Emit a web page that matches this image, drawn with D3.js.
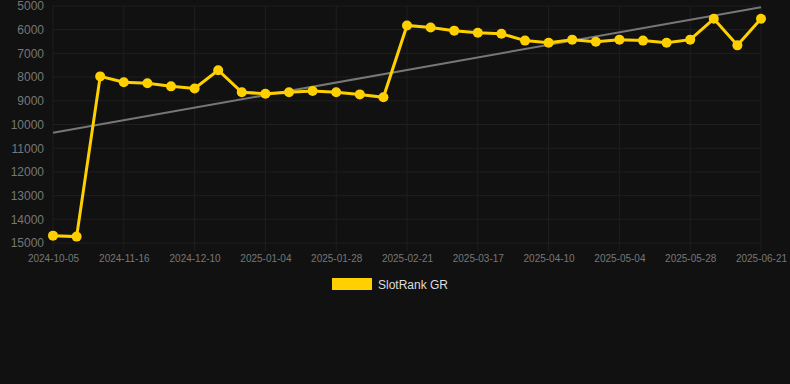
<!DOCTYPE html>
<html>
<head>
<meta charset="utf-8">
<script src="https://cdn.jsdelivr.net/npm/d3@7"></script>
<style>
  body { margin: 0; background: #111111; }
  svg { display: block; font-family: Arial, "Liberation Sans", sans-serif; }
</style>
</head>
<body>
<svg id="chart" width="790" height="384"></svg>
<script>
var dates = ['2024-10-05','2024-10-13','2024-11-08','2024-11-16','2024-11-24','2024-12-02',
  '2024-12-10','2024-12-18','2024-12-27','2025-01-04','2025-01-12','2025-01-20',
  '2025-01-28','2025-02-05','2025-02-13','2025-02-21','2025-03-01','2025-03-09',
  '2025-03-17','2025-03-25','2025-04-02','2025-04-10','2025-04-18','2025-04-26',
  '2025-05-04','2025-05-12','2025-05-20','2025-05-28','2025-06-05','2025-06-13','2025-06-21'];
var ranks = [14690, 14730, 7970, 8220, 8260, 8390, 8480, 7710, 8640, 8700, 8640, 8590,
  8640, 8730, 8850, 5820, 5910, 6040, 6130, 6170, 6460, 6550, 6420, 6510,
  6420, 6460, 6550, 6420, 5540, 6660, 5540];
var trend = [10350, 5050]; // trend line at first and last date
var yTicks = [5000, 6000, 7000, 8000, 9000, 10000, 11000, 12000, 13000, 14000, 15000];
var seriesName = 'SlotRank GR';

var svg = d3.select('#chart');
var x = d3.scalePoint().domain(dates).range([53, 761]);
var y = d3.scaleLinear().domain([5000, 15000]).range([6, 243]);
var xTicks = dates.filter(function(d, i) { return i % 3 === 0; });

// grid
svg.append('g')
  .selectAll('line.h')
  .data(yTicks)
  .enter()
  .append('line')
  .attr('x1', 53).attr('x2', 761)
  .attr('y1', d => y(d)).attr('y2', d => y(d))
  .attr('stroke', '#1f1f1f').attr('stroke-width', 1);

svg.append('g')
  .selectAll('line.v')
  .data(xTicks)
  .enter()
  .append('line')
  .attr('x1', d => x(d)).attr('x2', d => x(d))
  .attr('y1', 6).attr('y2', 251)
  .attr('stroke', '#1f1f1f').attr('stroke-width', 1);

// axes
var yAxis = svg.append('g')
  .attr('transform', 'translate(44,0)')
  .call(d3.axisLeft(y).tickValues(yTicks).tickFormat(d3.format('d')).tickSize(0).tickPadding(0));
yAxis.select('.domain').remove();
yAxis.selectAll('text').attr('fill', '#777').attr('font-size', 12);

var xAxis = svg.append('g')
  .attr('transform', 'translate(0,243)')
  .call(d3.axisBottom(x).tickValues(xTicks).tickSize(0).tickPadding(12));
xAxis.select('.domain').remove();
xAxis.selectAll('text').attr('fill', '#777').attr('font-size', 10);

// trend
svg.append('line')
  .attr('x1', x(dates[0])).attr('y1', y(trend[0]))
  .attr('x2', x(dates[dates.length - 1])).attr('y2', y(trend[1]))
  .attr('stroke', '#777').attr('stroke-width', 2);

// series
var line = d3.line()
  .x((d, i) => x(dates[i]))
  .y(d => y(d));

svg.append('path')
  .datum(ranks)
  .attr('d', line)
  .attr('fill', 'none')
  .attr('stroke', '#FFD000')
  .attr('stroke-width', 3);

svg.append('g')
  .selectAll('circle')
  .data(ranks)
  .enter()
  .append('circle')
  .attr('cx', (d, i) => x(dates[i]))
  .attr('cy', d => y(d))
  .attr('r', 5)
  .attr('fill', '#FFD000');

// legend
svg.append('rect')
  .attr('x', 332).attr('y', 278)
  .attr('width', 40).attr('height', 12)
  .attr('fill', '#FFD000');
svg.append('text')
  .attr('x', 378).attr('y', 289)
  .attr('fill', '#ddd')
  .attr('font-size', 12)
  .text(seriesName);
</script>
</body>
</html>
